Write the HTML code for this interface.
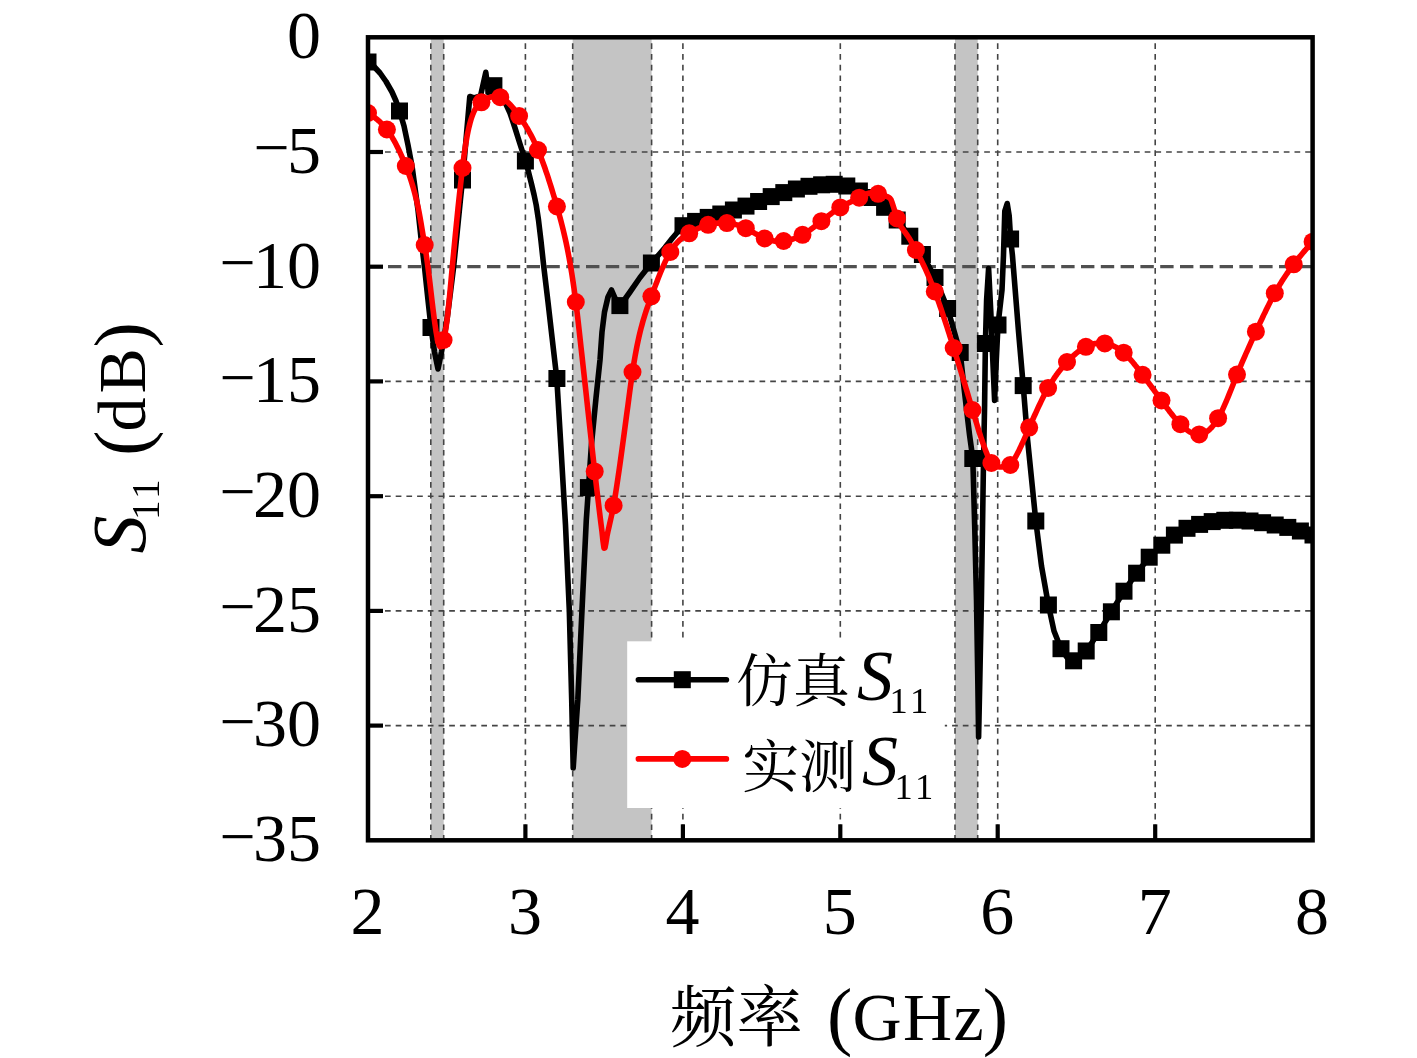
<!DOCTYPE html>
<html lang="zh"><head><meta charset="utf-8"><title>S11</title>
<style>html,body{margin:0;padding:0;background:#fff;overflow:hidden}svg{display:block}.n{font-family:"Liberation Serif","Noto Serif CJK SC",serif;fill:#000}.c{font-family:"Noto Serif CJK SC","Liberation Serif",serif;fill:#000;font-weight:400}.i{font-family:"Liberation Serif",serif;font-style:italic;fill:#000}</style></head><body>
<svg width="1417" height="1058" viewBox="0 0 1417 1058">
<rect width="1417" height="1058" fill="#fff"/>
<defs><clipPath id="cp"><rect x="368" y="37.3" width="944.6" height="803"/></clipPath></defs>
<rect x="430.8" y="37.3" width="12.9" height="803" fill="#c4c4c4"/>
<rect x="572.7" y="37.3" width="78.9" height="803" fill="#c4c4c4"/>
<rect x="955" y="37.3" width="22.7" height="803" fill="#c4c4c4"/>
<g stroke="#444" stroke-width="1.6" stroke-dasharray="5.7 5" fill="none">
<line x1="525.4" y1="43.3" x2="525.4" y2="840.3"/>
<line x1="682.9" y1="43.3" x2="682.9" y2="840.3"/>
<line x1="840.3" y1="43.3" x2="840.3" y2="840.3"/>
<line x1="997.7" y1="43.3" x2="997.7" y2="840.3"/>
<line x1="1155.2" y1="43.3" x2="1155.2" y2="840.3"/>
<line x1="430.8" y1="43.3" x2="430.8" y2="840.3"/>
<line x1="443.7" y1="43.3" x2="443.7" y2="840.3"/>
<line x1="572.7" y1="43.3" x2="572.7" y2="840.3"/>
<line x1="651.6" y1="43.3" x2="651.6" y2="840.3"/>
<line x1="955" y1="43.3" x2="955" y2="840.3"/>
<line x1="977.7" y1="43.3" x2="977.7" y2="840.3"/>
<line x1="385" y1="152" x2="1312.6" y2="152"/>
<line x1="385" y1="381.4" x2="1312.6" y2="381.4"/>
<line x1="385" y1="496.2" x2="1312.6" y2="496.2"/>
<line x1="385" y1="610.9" x2="1312.6" y2="610.9"/>
<line x1="385" y1="725.6" x2="1312.6" y2="725.6"/>
</g>
<line x1="388" y1="266.7" x2="1312.6" y2="266.7" stroke="#505050" stroke-width="3.3" stroke-dasharray="13.4 6.4"/>
<g clip-path="url(#cp)">
<path d="M368 62 L374 66.5 L380 73 L386 81.5 L392 92 L396 101 L399.5 111 L404 126 L408 145 L412 166 L415 188 L418 210 L421 238 L424.6 268 L428 300 L431 327.5 L434.5 352 L438 369 L441.5 352 L444.5 335 L447.5 316 L453.5 268 L457 234 L460.4 200 L462.5 180 L466 140 L469.8 96.5 L474 98 L480.5 96 L485.8 72.3 L488.5 93 L493.5 85.7 L500 93 L505 102 L510 113 L515 128 L520 144 L525.5 161 L528.5 172 L531.5 184 L534 194.5 L536.2 205 L538.5 220 L541 241 L543.7 266 L548 302 L552 337 L556.8 378.5 L560.8 445 L565.5 525 L569.3 610 L571.7 700 L573.2 768 L575 740 L577.8 700 L582 610 L586.3 520 L588.5 487.6 L591.4 445 L596 398 L600 360 L602 332 L604.5 312 L608 297 L611.5 290 L615 298 L620 305.6 L625 299 L630 292 L640 277.5 L651.5 263 L659 254.5 L665 247.5 L672.3 238.3 L683 225.7 L695.6 221.4 L708.2 217.4 L720.8 214 L733.4 210 L746 206.1 L758.6 201.5 L771.2 196.6 L783.8 192.6 L796.4 189 L809 186.3 L821.6 184.8 L834.2 184.3 L846.8 186 L859.4 191 L872 197.5 L884.6 207.3 L897.2 220 L909.8 236.2 L922.4 254.5 L935 277.5 L947.6 308.5 L960.2 352.5 L964.5 392 L969.5 434.7 L972.8 458.5 L974.8 530 L976.5 600 L977.8 680 L978.6 737 L979.8 680 L981.4 600 L983.3 474 L984.6 405 L985.4 343.5 L986.6 300 L988.6 268.5 L990.8 312 L992.8 360 L994.6 400.5 L996.3 360 L998 325 L1002 290 L1003.5 255 L1004.8 211 L1007.2 203.5 L1009.2 216 L1010.6 239 L1012.4 255 L1018.4 330 L1023.2 385.6 L1027.6 440 L1035.8 521 L1041.5 566 L1048.4 605 L1054 631 L1061 648.7 L1067 657.5 L1073.6 660.8 L1080 657 L1086.2 651 L1098.8 632.5 L1111.4 611.8 L1124 591.2 L1136.6 573.2 L1149.2 557.2 L1161.8 545.2 L1174.4 535.1 L1187 528.3 L1199.6 524.4 L1212.2 521.6 L1224.8 520.3 L1237.4 520.2 L1250 521 L1262.6 522.7 L1275.2 525 L1287.8 527.4 L1300.4 531 L1313 535" fill="none" stroke="#000" stroke-width="5.6" stroke-linejoin="round" stroke-linecap="round"/>
<rect x="359.5" y="53.5" width="17" height="17" fill="#000"/>
<rect x="391" y="102.5" width="17" height="17" fill="#000"/>
<rect x="422.5" y="319" width="17" height="17" fill="#000"/>
<rect x="454" y="171.5" width="17" height="17" fill="#000"/>
<rect x="485.4" y="77.2" width="17" height="17" fill="#000"/>
<rect x="516.9" y="152.5" width="17" height="17" fill="#000"/>
<rect x="548.4" y="370" width="17" height="17" fill="#000"/>
<rect x="579.9" y="479.1" width="17" height="17" fill="#000"/>
<rect x="611.4" y="297.1" width="17" height="17" fill="#000"/>
<rect x="642.9" y="254.5" width="17" height="17" fill="#000"/>
<rect x="674.5" y="217.2" width="17" height="17" fill="#000"/>
<rect x="687.1" y="212.9" width="17" height="17" fill="#000"/>
<rect x="699.7" y="208.9" width="17" height="17" fill="#000"/>
<rect x="712.3" y="205.5" width="17" height="17" fill="#000"/>
<rect x="724.9" y="201.5" width="17" height="17" fill="#000"/>
<rect x="737.5" y="197.6" width="17" height="17" fill="#000"/>
<rect x="750.1" y="193" width="17" height="17" fill="#000"/>
<rect x="762.7" y="188.1" width="17" height="17" fill="#000"/>
<rect x="775.3" y="184.1" width="17" height="17" fill="#000"/>
<rect x="787.9" y="180.5" width="17" height="17" fill="#000"/>
<rect x="800.5" y="177.8" width="17" height="17" fill="#000"/>
<rect x="813.1" y="176.3" width="17" height="17" fill="#000"/>
<rect x="825.7" y="175.8" width="17" height="17" fill="#000"/>
<rect x="838.3" y="177.5" width="17" height="17" fill="#000"/>
<rect x="850.9" y="182.5" width="17" height="17" fill="#000"/>
<rect x="863.5" y="189" width="17" height="17" fill="#000"/>
<rect x="876.1" y="198.8" width="17" height="17" fill="#000"/>
<rect x="888.7" y="211.5" width="17" height="17" fill="#000"/>
<rect x="901.3" y="227.7" width="17" height="17" fill="#000"/>
<rect x="913.9" y="246" width="17" height="17" fill="#000"/>
<rect x="926.5" y="269" width="17" height="17" fill="#000"/>
<rect x="939.1" y="300" width="17" height="17" fill="#000"/>
<rect x="951.7" y="344" width="17" height="17" fill="#000"/>
<rect x="964.3" y="450" width="17" height="17" fill="#000"/>
<rect x="976.9" y="335" width="17" height="17" fill="#000"/>
<rect x="989.5" y="316.5" width="17" height="17" fill="#000"/>
<rect x="1002.1" y="230.5" width="17" height="17" fill="#000"/>
<rect x="1014.7" y="377.1" width="17" height="17" fill="#000"/>
<rect x="1027.3" y="512.5" width="17" height="17" fill="#000"/>
<rect x="1039.9" y="596.5" width="17" height="17" fill="#000"/>
<rect x="1052.5" y="640.2" width="17" height="17" fill="#000"/>
<rect x="1065.1" y="652.3" width="17" height="17" fill="#000"/>
<rect x="1077.7" y="642.5" width="17" height="17" fill="#000"/>
<rect x="1090.3" y="624" width="17" height="17" fill="#000"/>
<rect x="1102.9" y="603.3" width="17" height="17" fill="#000"/>
<rect x="1115.5" y="582.7" width="17" height="17" fill="#000"/>
<rect x="1128.1" y="564.7" width="17" height="17" fill="#000"/>
<rect x="1140.7" y="548.7" width="17" height="17" fill="#000"/>
<rect x="1153.3" y="536.7" width="17" height="17" fill="#000"/>
<rect x="1165.9" y="526.6" width="17" height="17" fill="#000"/>
<rect x="1178.5" y="519.8" width="17" height="17" fill="#000"/>
<rect x="1191.1" y="515.9" width="17" height="17" fill="#000"/>
<rect x="1203.7" y="513.1" width="17" height="17" fill="#000"/>
<rect x="1216.3" y="511.8" width="17" height="17" fill="#000"/>
<rect x="1228.9" y="511.7" width="17" height="17" fill="#000"/>
<rect x="1241.5" y="512.5" width="17" height="17" fill="#000"/>
<rect x="1254.1" y="514.2" width="17" height="17" fill="#000"/>
<rect x="1266.7" y="516.5" width="17" height="17" fill="#000"/>
<rect x="1279.3" y="518.9" width="17" height="17" fill="#000"/>
<rect x="1291.9" y="522.5" width="17" height="17" fill="#000"/>
<rect x="1304.5" y="526.5" width="17" height="17" fill="#000"/>
<path d="M368 113 L369 113.7 L370 114.3 L371 115 L372 115.7 L373 116.4 L374 117.1 L375 117.8 L376 118.6 L377 119.3 L378 120.2 L379 121 L380 121.9 L381 122.9 L382 123.9 L383 124.9 L384 126 L385 127.1 L386 128.4 L387 129.6 L388 131 L389 132.4 L390 133.9 L391 135.5 L392 137.1 L393 138.8 L394 140.5 L395 142.3 L396 144.2 L397 146.2 L398 148.2 L399 150.3 L400 152.4 L401 154.6 L402 156.9 L403 159.2 L404 161.6 L405 164 L406 166.5 L407 169.1 L408 171.8 L409 174.5 L410 177.4 L411 180.4 L412 183.6 L413 186.9 L414 190.4 L415 194.2 L416 198.2 L417 202.4 L418 206.9 L419 211.8 L420 217.3 L421 223.1 L422 229 L423 235 L424 241 L425 246.9 L426 253.3 L427 260.1 L428 267.5 L429 275.3 L430 283.6 L431 292.2 L432 300.8 L433 309.1 L434 317.1 L435 324.5 L436 331.2 L437 336.9 L438 341.5 L439 344.9 L440 346.7 L441 346.8 L442 344.9 L443 341.9 L444 338.4 L445 333.7 L446 327.5 L447 320.1 L448 311.5 L449 302.1 L450 291.9 L451 281 L452 270.1 L453 259.6 L454 249 L455 238.5 L456 228.2 L457 218.2 L458 208.4 L459 198.9 L460 189.6 L461 180.7 L462 171.9 L463 163.5 L464 155.7 L465 148.6 L466 142.3 L467 136.6 L468 131.5 L469 127 L470 123 L471 119.5 L472 116.4 L473 113.8 L474 111.5 L475 109.5 L476 107.9 L477 106.5 L478 105.3 L479 104.3 L480 103.4 L481 102.6 L482 101.8 L483 101.1 L484 100.4 L485 99.8 L486 99.2 L487 98.6 L488 98.1 L489 97.7 L490 97.3 L491 97 L492 96.7 L493 96.5 L494 96.4 L495 96.3 L496 96.3 L497 96.4 L498 96.6 L499 96.8 L500 97.1 L501 97.5 L502 98 L503 98.6 L504 99.2 L505 99.9 L506 100.7 L507 101.6 L508 102.5 L509 103.5 L510 104.5 L511 105.6 L512 106.7 L513 107.9 L514 109.1 L515 110.4 L516 111.7 L517 113.1 L518 114.4 L519 115.8 L520 117.2 L521 118.7 L522 120.1 L523 121.6 L524 123.2 L525 124.7 L526 126.4 L527 128 L528 129.7 L529 131.5 L530 133.3 L531 135.1 L532 137 L533 139 L534 141.1 L535 143.2 L536 145.3 L537 147.6 L538 149.9 L539 152.3 L540 154.8 L541 157.4 L542 160 L543 162.7 L544 165.5 L545 168.3 L546 171.3 L547 174.2 L548 177.2 L549 180.3 L550 183.5 L551 186.7 L552 189.9 L553 193.2 L554 196.5 L555 199.9 L556 203.3 L557 206.8 L558 210.3 L559 213.8 L560 217.5 L561 221.2 L562 225.1 L563 229.1 L564 233.3 L565 237.6 L566 242.2 L567 246.9 L568 252 L569 257.3 L570 262.8 L571 268.7 L572 274.9 L573 281.5 L574 288.4 L575 295.8 L576 303.5 L577 311.6 L578 320.1 L579 329 L580 338.1 L581 347.2 L582 356.1 L583 365.2 L584 374.3 L585 383.4 L586 392.5 L587 401.7 L588 410.9 L589 420 L590 429.1 L591 438.2 L592 447.3 L593 456.4 L594 465.3 L595 473.9 L596 482.5 L597 491 L598 499.4 L599 507.7 L600 515.8 L601 523.8 L602 531.6 L603 541.1 L604 548.2 L605 547.8 L606 542.4 L607 536 L608 531.2 L609 526.8 L610 522.4 L611 518 L612 513.4 L613 508.5 L614 503.2 L615 497.3 L616 490.9 L617 484.4 L618 477.7 L619 470.8 L620 463.8 L621 456.6 L622 449.4 L623 442 L624 434.6 L625 427.2 L626 419.7 L627 412.2 L628 404.8 L629 397.1 L630 389.6 L631 382.3 L632 375.3 L633 368.7 L634 362.5 L635 356.6 L636 351.2 L637 346 L638 341.2 L639 336.7 L640 332.4 L641 328.4 L642 324.7 L643 321.1 L644 317.7 L645 314.5 L646 311.4 L647 308.4 L648 305.6 L649 302.8 L650 300 L651 297.3 L652 294.6 L653 291.9 L654 289.3 L655 286.6 L656 284 L657 281.4 L658 278.8 L659 276.3 L660 273.8 L661 271.3 L662 269 L663 266.6 L664 264.4 L665 262.2 L666 260.1 L667 258 L668 256.1 L669 254.2 L670 252.5 L671 250.8 L672 249.2 L673 247.8 L674 246.4 L675 245.1 L676 243.9 L677 242.8 L678 241.7 L679 240.7 L680 239.8 L681 238.9 L682 238.1 L683 237.3 L684 236.6 L685 235.9 L686 235.3 L687 234.6 L688 234 L689 233.4 L690 232.8 L691 232.2 L692 231.7 L693 231.1 L694 230.6 L695 230.1 L696 229.6 L697 229.1 L698 228.6 L699 228.1 L700 227.7 L701 227.3 L702 226.9 L703 226.5 L704 226.1 L705 225.7 L706 225.4 L707 225.1 L708 224.8 L709 224.5 L710 224.3 L711 224.1 L712 223.9 L713 223.7 L714 223.5 L715 223.4 L716 223.2 L717 223.1 L718 223.1 L719 223 L720 222.9 L721 222.9 L722 222.9 L723 222.9 L724 222.9 L725 223 L726 223 L727 223.1 L728 223.2 L729 223.3 L730 223.4 L731 223.6 L732 223.7 L733 223.9 L734 224.1 L735 224.3 L736 224.6 L737 224.9 L738 225.1 L739 225.5 L740 225.8 L741 226.1 L742 226.5 L743 226.9 L744 227.3 L745 227.8 L746 228.3 L747 228.8 L748 229.3 L749 229.9 L750 230.4 L751 231 L752 231.6 L753 232.2 L754 232.8 L755 233.4 L756 233.9 L757 234.5 L758 235.1 L759 235.7 L760 236.2 L761 236.7 L762 237.3 L763 237.7 L764 238.2 L765 238.6 L766 239 L767 239.4 L768 239.7 L769 240 L770 240.2 L771 240.5 L772 240.7 L773 240.8 L774 241 L775 241.1 L776 241.2 L777 241.2 L778 241.3 L779 241.3 L780 241.3 L781 241.2 L782 241.2 L783 241.1 L784 241 L785 240.8 L786 240.7 L787 240.5 L788 240.3 L789 240.1 L790 239.8 L791 239.6 L792 239.3 L793 239 L794 238.6 L795 238.3 L796 237.9 L797 237.5 L798 237.1 L799 236.6 L800 236.1 L801 235.6 L802 235.1 L803 234.5 L804 233.9 L805 233.3 L806 232.7 L807 232.1 L808 231.4 L809 230.7 L810 230 L811 229.3 L812 228.5 L813 227.8 L814 227 L815 226.3 L816 225.5 L817 224.7 L818 223.9 L819 223.1 L820 222.3 L821 221.5 L822 220.7 L823 219.9 L824 219.1 L825 218.3 L826 217.6 L827 216.8 L828 216 L829 215.2 L830 214.5 L831 213.7 L832 213 L833 212.3 L834 211.5 L835 210.8 L836 210.2 L837 209.5 L838 208.8 L839 208.2 L840 207.6 L841 207 L842 206.4 L843 205.8 L844 205.3 L845 204.8 L846 204.2 L847 203.7 L848 203.2 L849 202.7 L850 202.2 L851 201.8 L852 201.3 L853 200.8 L854 200.3 L855 199.8 L856 199.3 L857 198.8 L858 198.3 L859 197.8 L860 197.3 L861 196.7 L862 196.2 L863 195.7 L864 195.2 L865 194.7 L866 194.2 L867 193.8 L868 193.4 L869 193.1 L870 193 L871 193 L872 193.1 L873 193.2 L874 193.3 L875 193.4 L876 193.6 L877 193.7 L878 193.8 L879 193.9 L880 194.1 L881 194.4 L882 194.8 L883 195.2 L884 195.6 L885 195.9 L886 196.3 L887 196.6 L888 197.1 L889 197.6 L890 198.3 L891 199.7 L892 202.3 L893 205.4 L894 208.5 L895 212.2 L896 215.7 L897 218.6 L898 220.9 L899 223 L900 224.8 L901 226.5 L902 228 L903 229.5 L904 230.9 L905 232.2 L906 233.6 L907 235 L908 236.5 L909 238 L910 239.7 L911 241.4 L912 243.1 L913 244.9 L914 246.6 L915 248.4 L916 250.2 L917 252.1 L918 254 L919 255.9 L920 257.8 L921 259.8 L922 261.9 L923 263.9 L924 266 L925 268.2 L926 270.4 L927 272.6 L928 274.9 L929 277.2 L930 279.6 L931 282 L932 284.4 L933 287 L934 289.5 L935 292.1 L936 294.8 L937 297.5 L938 300.3 L939 303.1 L940 306 L941 308.9 L942 311.8 L943 314.8 L944 317.8 L945 320.8 L946 323.9 L947 326.9 L948 330.1 L949 333.2 L950 336.4 L951 339.5 L952 342.7 L953 345.9 L954 349.1 L955 352.3 L956 355.6 L957 358.8 L958 362 L959 365.3 L960 368.5 L961 371.8 L962 375.1 L963 378.3 L964 381.6 L965 384.9 L966 388.2 L967 391.5 L968 394.9 L969 398.2 L970 401.5 L971 404.8 L972 408.2 L973 411.5 L974 414.9 L975 418.2 L976 421.5 L977 424.8 L978 428.1 L979 431.3 L980 434.4 L981 437.5 L982 440.5 L983 443.4 L984 446.2 L985 448.9 L986 451.5 L987 454.1 L988 456.7 L989 459 L990 461 L991 462.5 L992 463.5 L993 464.2 L994 464.7 L995 465.3 L996 465.8 L997 466.3 L998 466.6 L999 466.9 L1000 467 L1001 467 L1002 466.9 L1003 466.8 L1004 466.7 L1005 466.5 L1006 466.3 L1007 466 L1008 465.9 L1009 465.7 L1010 465.2 L1011 464.4 L1012 463.2 L1013 461.6 L1014 459.8 L1015 458 L1016 456.2 L1017 454.3 L1018 452.4 L1019 450.4 L1020 448.3 L1021 446.2 L1022 444 L1023 441.8 L1024 439.6 L1025 437.3 L1026 435 L1027 432.7 L1028 430.4 L1029 428.1 L1030 425.8 L1031 423.5 L1032 421.2 L1033 419 L1034 416.7 L1035 414.5 L1036 412.3 L1037 410.1 L1038 407.9 L1039 405.8 L1040 403.7 L1041 401.6 L1042 399.6 L1043 397.6 L1044 395.6 L1045 393.7 L1046 391.8 L1047 390 L1048 388.2 L1049 386.5 L1050 384.8 L1051 383.1 L1052 381.5 L1053 380 L1054 378.4 L1055 377 L1056 375.5 L1057 374.1 L1058 372.8 L1059 371.4 L1060 370.2 L1061 368.9 L1062 367.7 L1063 366.5 L1064 365.3 L1065 364.2 L1066 363.1 L1067 362 L1068 360.9 L1069 359.9 L1070 358.9 L1071 357.9 L1072 357 L1073 356.1 L1074 355.2 L1075 354.3 L1076 353.4 L1077 352.6 L1078 351.8 L1079 351.1 L1080 350.4 L1081 349.7 L1082 349 L1083 348.4 L1084 347.8 L1085 347.3 L1086 346.7 L1087 346.3 L1088 345.8 L1089 345.4 L1090 345 L1091 344.7 L1092 344.4 L1093 344.1 L1094 343.8 L1095 343.6 L1096 343.5 L1097 343.3 L1098 343.2 L1099 343.1 L1100 343.1 L1101 343.1 L1102 343.1 L1103 343.2 L1104 343.3 L1105 343.4 L1106 343.6 L1107 343.8 L1108 344 L1109 344.3 L1110 344.6 L1111 344.9 L1112 345.3 L1113 345.7 L1114 346.2 L1115 346.7 L1116 347.2 L1117 347.8 L1118 348.4 L1119 349.1 L1120 349.8 L1121 350.5 L1122 351.3 L1123 352.1 L1124 353 L1125 353.9 L1126 354.9 L1127 355.8 L1128 356.9 L1129 358 L1130 359.1 L1131 360.2 L1132 361.3 L1133 362.5 L1134 363.7 L1135 365 L1136 366.2 L1137 367.5 L1138 368.8 L1139 370.1 L1140 371.4 L1141 372.7 L1142 374 L1143 375.4 L1144 376.7 L1145 378 L1146 379.4 L1147 380.7 L1148 382.1 L1149 383.4 L1150 384.8 L1151 386.1 L1152 387.5 L1153 388.8 L1154 390.2 L1155 391.6 L1156 392.9 L1157 394.3 L1158 395.7 L1159 397 L1160 398.4 L1161 399.8 L1162 401.1 L1163 402.5 L1164 403.9 L1165 405.2 L1166 406.6 L1167 408 L1168 409.3 L1169 410.6 L1170 412 L1171 413.2 L1172 414.5 L1173 415.8 L1174 417 L1175 418.2 L1176 419.4 L1177 420.6 L1178 421.7 L1179 422.8 L1180 423.8 L1181 424.8 L1182 425.8 L1183 426.8 L1184 427.6 L1185 428.5 L1186 429.3 L1187 430 L1188 430.7 L1189 431.4 L1190 432 L1191 432.5 L1192 433 L1193 433.4 L1194 433.7 L1195 434 L1196 434.2 L1197 434.3 L1198 434.4 L1199 434.4 L1200 434.3 L1201 434.2 L1202 434 L1203 433.6 L1204 433.3 L1205 432.8 L1206 432.2 L1207 431.6 L1208 430.8 L1209 430 L1210 429.1 L1211 428.1 L1212 427 L1213 425.8 L1214 424.6 L1215 423.2 L1216 421.7 L1217 420.1 L1218 418.4 L1219 416.7 L1220 414.8 L1221 412.8 L1222 410.8 L1223 408.6 L1224 406.4 L1225 404.2 L1226 401.9 L1227 399.5 L1228 397.1 L1229 394.6 L1230 392.2 L1231 389.7 L1232 387.2 L1233 384.7 L1234 382.1 L1235 379.6 L1236 377.1 L1237 374.7 L1238 372.2 L1239 369.8 L1240 367.4 L1241 365.1 L1242 362.7 L1243 360.4 L1244 358.1 L1245 355.8 L1246 353.5 L1247 351.3 L1248 349.1 L1249 346.8 L1250 344.6 L1251 342.4 L1252 340.2 L1253 338 L1254 335.9 L1255 333.7 L1256 331.5 L1257 329.4 L1258 327.2 L1259 325.1 L1260 322.9 L1261 320.8 L1262 318.7 L1263 316.5 L1264 314.4 L1265 312.4 L1266 310.3 L1267 308.3 L1268 306.2 L1269 304.3 L1270 302.3 L1271 300.3 L1272 298.4 L1273 296.5 L1274 294.7 L1275 292.9 L1276 291.1 L1277 289.3 L1278 287.6 L1279 285.9 L1280 284.3 L1281 282.7 L1282 281.1 L1283 279.5 L1284 278 L1285 276.5 L1286 275 L1287 273.5 L1288 272.1 L1289 270.7 L1290 269.3 L1291 267.9 L1292 266.6 L1293 265.2 L1294 263.9 L1295 262.6 L1296 261.3 L1297 260.1 L1298 258.8 L1299 257.6 L1300 256.4 L1301 255.2 L1302 254 L1303 252.8 L1304 251.6 L1305 250.4 L1306 249.3 L1307 248.1 L1308 247 L1309 245.8 L1310 244.7 L1311 243.5 L1312 242.4" fill="none" stroke="#f00" stroke-width="5.6" stroke-linejoin="round" stroke-linecap="round"/>
<circle cx="368" cy="113" r="9" fill="#f00"/>
<circle cx="386.9" cy="129.5" r="9" fill="#f00"/>
<circle cx="405.8" cy="166" r="9" fill="#f00"/>
<circle cx="424.7" cy="245" r="9" fill="#f00"/>
<circle cx="443.6" cy="340" r="9" fill="#f00"/>
<circle cx="462.5" cy="168" r="9" fill="#f00"/>
<circle cx="481.4" cy="102.3" r="9" fill="#f00"/>
<circle cx="500.2" cy="97.2" r="9" fill="#f00"/>
<circle cx="519.1" cy="116" r="9" fill="#f00"/>
<circle cx="538" cy="150" r="9" fill="#f00"/>
<circle cx="556.9" cy="206.5" r="9" fill="#f00"/>
<circle cx="575.8" cy="302" r="9" fill="#f00"/>
<circle cx="594.7" cy="471.4" r="9" fill="#f00"/>
<circle cx="613.6" cy="505.4" r="9" fill="#f00"/>
<circle cx="632.5" cy="372" r="9" fill="#f00"/>
<circle cx="651.4" cy="296.3" r="9" fill="#f00"/>
<circle cx="670.3" cy="252" r="9" fill="#f00"/>
<circle cx="689.2" cy="233.3" r="9" fill="#f00"/>
<circle cx="708.1" cy="224.8" r="9" fill="#f00"/>
<circle cx="726.9" cy="223.1" r="9" fill="#f00"/>
<circle cx="745.8" cy="228.2" r="9" fill="#f00"/>
<circle cx="764.7" cy="238.5" r="9" fill="#f00"/>
<circle cx="783.6" cy="241" r="9" fill="#f00"/>
<circle cx="802.5" cy="234.8" r="9" fill="#f00"/>
<circle cx="821.4" cy="221.2" r="9" fill="#f00"/>
<circle cx="840.3" cy="207.4" r="9" fill="#f00"/>
<circle cx="859.2" cy="197.7" r="9" fill="#f00"/>
<circle cx="878.1" cy="193.8" r="9" fill="#f00"/>
<circle cx="897" cy="218.5" r="9" fill="#f00"/>
<circle cx="915.9" cy="250" r="9" fill="#f00"/>
<circle cx="934.8" cy="291.5" r="9" fill="#f00"/>
<circle cx="953.7" cy="348" r="9" fill="#f00"/>
<circle cx="972.5" cy="410" r="9" fill="#f00"/>
<circle cx="991.4" cy="463" r="9" fill="#f00"/>
<circle cx="1010.3" cy="465" r="9" fill="#f00"/>
<circle cx="1029.2" cy="427.6" r="9" fill="#f00"/>
<circle cx="1048.1" cy="388" r="9" fill="#f00"/>
<circle cx="1067" cy="362" r="9" fill="#f00"/>
<circle cx="1085.9" cy="346.8" r="9" fill="#f00"/>
<circle cx="1104.8" cy="343.4" r="9" fill="#f00"/>
<circle cx="1123.7" cy="352.7" r="9" fill="#f00"/>
<circle cx="1142.6" cy="374.8" r="9" fill="#f00"/>
<circle cx="1161.5" cy="400.4" r="9" fill="#f00"/>
<circle cx="1180.4" cy="424.2" r="9" fill="#f00"/>
<circle cx="1199.2" cy="434.4" r="9" fill="#f00"/>
<circle cx="1218.1" cy="418.2" r="9" fill="#f00"/>
<circle cx="1237" cy="374.6" r="9" fill="#f00"/>
<circle cx="1255.9" cy="331.7" r="9" fill="#f00"/>
<circle cx="1274.8" cy="293.2" r="9" fill="#f00"/>
<circle cx="1293.7" cy="264.3" r="9" fill="#f00"/>
<circle cx="1312.6" cy="241.7" r="9" fill="#f00"/>
</g>
<rect x="627.2" y="641.3" width="317.6" height="166.7" fill="#fff"/>
<line x1="638.4" y1="679.7" x2="726.4" y2="679.7" stroke="#000" stroke-width="5.6" stroke-linecap="round"/>
<rect x="673.8" y="671.2" width="17" height="17" fill="#000"/>
<line x1="638.4" y1="758.9" x2="726.4" y2="758.9" stroke="#f00" stroke-width="5.6" stroke-linecap="round"/>
<circle cx="682.3" cy="758.9" r="9" fill="#f00"/>
<text class="c" font-size="57"><tspan x="736" y="701.2">仿真</tspan><tspan class="i" x="857" y="699.6" font-size="72">S</tspan><tspan class="n" x="889.5" y="713.4" font-size="36.5" letter-spacing="3.5">11</tspan></text>
<text class="c" font-size="57"><tspan x="742.3" y="786.5">实测</tspan><tspan class="i" x="862" y="784.9" font-size="72">S</tspan><tspan class="n" x="894.5" y="798.7" font-size="36.5" letter-spacing="3.5">11</tspan></text>
<rect x="368" y="37.3" width="944.6" height="803" fill="none" stroke="#000" stroke-width="4.5"/>
<g stroke="#000" stroke-width="4.2">
<line x1="368" y1="152" x2="383" y2="152"/>
<line x1="368" y1="266.7" x2="383" y2="266.7"/>
<line x1="368" y1="381.4" x2="383" y2="381.4"/>
<line x1="368" y1="496.2" x2="383" y2="496.2"/>
<line x1="368" y1="610.9" x2="383" y2="610.9"/>
<line x1="368" y1="725.6" x2="383" y2="725.6"/>
<line x1="525.4" y1="840.3" x2="525.4" y2="824.3"/>
<line x1="682.9" y1="840.3" x2="682.9" y2="824.3"/>
<line x1="840.3" y1="840.3" x2="840.3" y2="824.3"/>
<line x1="997.7" y1="840.3" x2="997.7" y2="824.3"/>
<line x1="1155.2" y1="840.3" x2="1155.2" y2="824.3"/>
</g>
<text class="n" x="321" y="58.1" font-size="68" text-anchor="end">0</text>
<text class="n" font-size="68" text-anchor="end"><tspan x="289.5" y="169.2" font-size="64">−</tspan><tspan x="321" y="172.8">5</tspan></text>
<text class="n" font-size="68" text-anchor="end"><tspan x="255.5" y="283.9" font-size="64">−</tspan><tspan x="321" y="287.5">10</tspan></text>
<text class="n" font-size="68" text-anchor="end"><tspan x="255.5" y="398.6" font-size="64">−</tspan><tspan x="321" y="402.2">15</tspan></text>
<text class="n" font-size="68" text-anchor="end"><tspan x="255.5" y="513.4" font-size="64">−</tspan><tspan x="321" y="517">20</tspan></text>
<text class="n" font-size="68" text-anchor="end"><tspan x="255.5" y="628.1" font-size="64">−</tspan><tspan x="321" y="631.7">25</tspan></text>
<text class="n" font-size="68" text-anchor="end"><tspan x="255.5" y="742.8" font-size="64">−</tspan><tspan x="321" y="746.4">30</tspan></text>
<text class="n" font-size="68" text-anchor="end"><tspan x="255.5" y="857.5" font-size="64">−</tspan><tspan x="321" y="861.1">35</tspan></text>
<text class="n" x="367.5" y="934" font-size="68" text-anchor="middle">2</text>
<text class="n" x="524.9" y="934" font-size="68" text-anchor="middle">3</text>
<text class="n" x="682.4" y="934" font-size="68" text-anchor="middle">4</text>
<text class="n" x="839.8" y="934" font-size="68" text-anchor="middle">5</text>
<text class="n" x="997.2" y="934" font-size="68" text-anchor="middle">6</text>
<text class="n" x="1154.7" y="934" font-size="68" text-anchor="middle">7</text>
<text class="n" x="1312.1" y="934" font-size="68" text-anchor="middle">8</text>
<text class="c" font-size="66.5"><tspan x="670" y="1040.5">频率</tspan><tspan class="n" x="810" y="1040.5" font-size="40"> </tspan><tspan class="n" x="827" y="1041" font-size="76">(</tspan><tspan class="n" x="852.5" y="1039.5" font-size="68" letter-spacing="1.4">GHz</tspan><tspan class="n" x="982.8" y="1041" font-size="76">)</tspan></text>
<g transform="translate(145 553) rotate(-90)">
<text class="n" font-size="68"><tspan class="i" x="-0.5" y="0" font-size="76">S</tspan><tspan x="33" y="14" font-size="39" letter-spacing="3">11</tspan><tspan x="80" y="0" font-size="40"> </tspan><tspan x="97.3" y="1.5" font-size="76">(</tspan><tspan x="121.5" y="0" letter-spacing="4">dB</tspan><tspan x="205.5" y="1.5" font-size="76">)</tspan></text>
</g>
</svg></body></html>
